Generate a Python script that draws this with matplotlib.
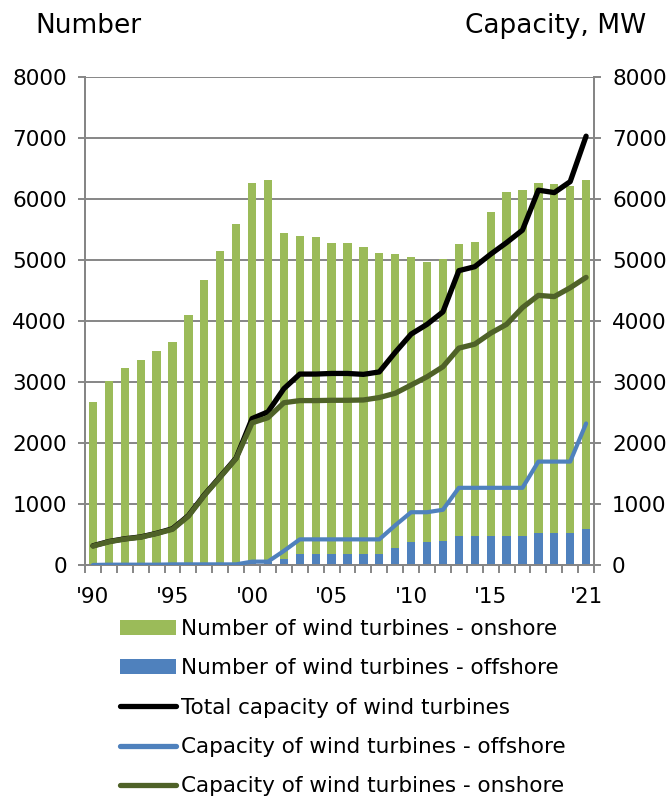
import matplotlib
matplotlib.use('Agg')
import matplotlib.pyplot as plt
from matplotlib.patches import Patch
from matplotlib.lines import Line2D
import numpy as np

matplotlib.rcParams['font.family'] = ['DejaVu Sans']
matplotlib.rcParams['font.size'] = 15.5

# 数据：1990-2021
years = list(range(1990, 2022))

# 风机总数（陆上+海上 堆叠后的高度）
turbines_total = [2680, 3020, 3225, 3355, 3510, 3660, 4100, 4670, 5150, 5585,
                  6265, 6310, 5450, 5390, 5385, 5285, 5280, 5210, 5110, 5105,
                  5045, 4975, 5015, 5255, 5300, 5780, 6110, 6150, 6260, 6240,
                  6220, 6305]
turbines_offshore = [0, 11, 11, 11, 11, 21, 21, 21, 21, 21,
                     41, 41, 100, 180, 175, 175, 175, 175, 175, 285,
                     375, 375, 400, 480, 480, 480, 480, 480, 530, 530,
                     530, 590]
turbines_onshore = [t - o for t, o in zip(turbines_total, turbines_offshore)]

# 装机容量 MW
cap_total = [315, 385, 430, 460, 520, 595, 810, 1150, 1450, 1755,
             2400, 2510, 2890, 3130, 3130, 3140, 3140, 3125, 3165, 3485,
             3785, 3945, 4150, 4825, 4890, 5095, 5285, 5490, 6145, 6105,
             6285, 7030]
cap_offshore = [0, 5, 5, 5, 5, 10, 10, 10, 10, 10,
                55, 55, 230, 420, 420, 420, 420, 420, 420, 650,
                865, 865, 905, 1265, 1265, 1265, 1265, 1265, 1695, 1695,
                1695, 2320]
cap_onshore = [310, 380, 425, 455, 515, 585, 800, 1140, 1440, 1745,
               2330, 2415, 2660, 2695, 2695, 2700, 2700, 2705, 2745, 2815,
               2950, 3085, 3250, 3555, 3620, 3800, 3945, 4220, 4420, 4400,
               4545, 4715]

xtick_labels = ["'90", "'95", "'00", "'05", "'10", "'15", "'21"]
xtick_years = [1990, 1995, 2000, 2005, 2010, 2015, 2021]

c_onshore = '#9BBB59'
c_offshore = '#4F81BD'
c_cap_on = '#4F6228'
grid_c = '#868686'

fig = plt.figure(figsize=(6.72, 7.98), dpi=100)
ax = fig.add_axes([0.1265, 0.292, 0.7575, 0.6115])
ax2 = ax.twinx()

x = np.arange(len(years))
w = 0.52

# 柱状图：海上在下，陆上在上
ax.bar(x, turbines_offshore, width=w, color=c_offshore, zorder=2)
ax.bar(x, turbines_onshore, width=w, bottom=turbines_offshore, color=c_onshore, zorder=2)

# 折线：容量
ax2.plot(x, cap_total, color='black', linewidth=3.8, solid_capstyle='round', zorder=3)
ax2.plot(x, cap_offshore, color=c_offshore, linewidth=3.0, solid_capstyle='round', zorder=4)
ax2.plot(x, cap_onshore, color=c_cap_on, linewidth=3.8, solid_capstyle='round', zorder=5)

for a in (ax, ax2):
    a.set_ylim(0, 8000)
    a.set_yticks(range(0, 8001, 1000))
    a.set_xlim(-0.5, len(years) - 0.5)
    for s in a.spines.values():
        s.set_color(grid_c)
        s.set_linewidth(1.4)
    a.spines['top'].set_visible(False)
    a.tick_params(axis='y', length=5, width=1.4, color=grid_c, pad=8)

ax.yaxis.grid(True, color=grid_c, linewidth=1.4, zorder=0)
ax.set_axisbelow(True)

# x 轴：刻度线在分类边界，标签在柱中心
ax.set_xticks([y - 1990 for y in xtick_years])
ax.set_xticklabels(xtick_labels)
ax.set_xticks(np.arange(-0.5, len(years), 1), minor=True)
ax.tick_params(axis='x', which='major', length=0, pad=16)
ax.tick_params(axis='x', which='minor', length=6, width=1.4, color=grid_c)

# 顶部轴标题
fig.text(35 / 672, 1 - 26 / 798, 'Number', ha='left', va='center', fontsize=19)
fig.text(646 / 672, 1 - 26 / 798, 'Capacity, MW', ha='right', va='center', fontsize=19)

# 图例
handles = [
    Patch(facecolor=c_onshore, edgecolor='none'),
    Patch(facecolor=c_offshore, edgecolor='none'),
    Line2D([], [], color='black', linewidth=3.8, solid_capstyle='round'),
    Line2D([], [], color=c_offshore, linewidth=3.8, solid_capstyle='round'),
    Line2D([], [], color=c_cap_on, linewidth=3.8, solid_capstyle='round'),
]
labels = ['Number of wind turbines - onshore',
          'Number of wind turbines - offshore',
          'Total capacity of wind turbines',
          'Capacity of wind turbines - offshore',
          'Capacity of wind turbines - onshore']
fig.legend(handles, labels, loc='upper left', bbox_to_anchor=(120 / 672, 1 - 619 / 798),
           frameon=False, handlelength=2.6, handletextpad=0.25, labelspacing=0.9,
           borderaxespad=0, borderpad=0)

plt.savefig('out.png', dpi=100)
plt.close()
